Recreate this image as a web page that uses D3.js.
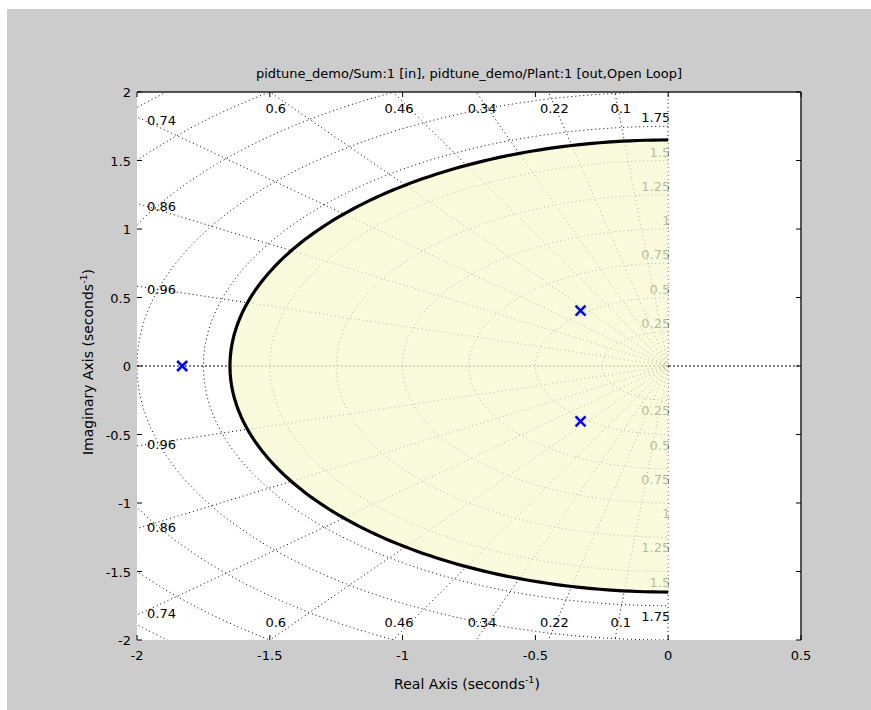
<!DOCTYPE html>
<html><head><meta charset="utf-8">
<script src="https://cdn.jsdelivr.net/npm/d3@7"></script>
<style>
html,body{margin:0;padding:0;background:#fff;}
svg text{font-family:"DejaVu Sans","Liberation Sans",Arial,sans-serif;}
</style></head>
<body>
<svg id="c" width="871" height="710"></svg>
<script>
const titleText = "pidtune_demo/Sum:1 [in], pidtune_demo/Plant:1 [out,Open Loop]";
const xTicks = [-2, -1.5, -1, -0.5, 0, 0.5];
const yTicks = [-2, -1.5, -1, -0.5, 0, 0.5, 1, 1.5, 2];
const dampingValues = [0.1, 0.22, 0.34, 0.46, 0.6, 0.74, 0.86, 0.96];
const naturalFreqs = [0.25, 0.5, 0.75, 1, 1.25, 1.5, 1.75, 2, 2.25, 2.5, 2.75];
const naturalFreqLabels = [0.25, 0.5, 0.75, 1, 1.25, 1.5, 1.75];
const poleRe = [-1.83, -0.33, -0.33];
const poleIm = [0, 0.405, -0.405];
const boundRadius = [1.65];

const svg = d3.select("#c");
const W = 871, H = 710;
const m = {l:137, r:801, t:92, b:640};
const x = d3.scaleLinear().domain([-2, 0.5]).range([m.l, m.r]);
const y = d3.scaleLinear().domain([-2, 2]).range([m.b, m.t]);

// figure background
svg.append("rect").attr("x",7).attr("y",9).attr("width",W-7).attr("height",H-9).attr("fill","#cccccc");
// axes background
svg.append("rect").attr("x",m.l).attr("y",m.t).attr("width",m.r-m.l).attr("height",m.b-m.t).attr("fill","#ffffff");

const defs = svg.append("defs");
defs.append("clipPath").attr("id","axclip").append("rect")
  .attr("x",m.l).attr("y",m.t).attr("width",m.r-m.l).attr("height",m.b-m.t);
defs.append("clipPath").attr("id","lhpclip").append("rect")
  .attr("x",m.l).attr("y",m.t).attr("width",x(0)-m.l+0.5).attr("height",m.b-m.t);

const grid = svg.append("g").attr("clip-path","url(#lhpclip)");
const dot = "1,3";
const line = d3.line().x(d=>x(d[0])).y(d=>y(d[1]));

// natural frequency arcs (left half plane)
naturalFreqs.forEach(wn=>{
  const pts = d3.range(0, 181).map(i=>{
    const a = Math.PI/2 + i*Math.PI/180;
    return [wn*Math.cos(a), wn*Math.sin(a)];
  });
  grid.append("path").attr("d", line(pts)).attr("fill","none")
    .attr("stroke","#000").attr("stroke-width",1).attr("stroke-dasharray",dot);
});
// damping rays
const R = 4;
dampingValues.forEach(z=>{
  const s = Math.sqrt(1-z*z);
  [1,-1].forEach(sg=>{
    grid.append("path").attr("d", line([[0,0],[-z*R, sg*s*R]])).attr("fill","none")
      .attr("stroke","#000").attr("stroke-width",1).attr("stroke-dasharray",dot);
  });
});
// imaginary axis (zeta = 0)
grid.append("path").attr("d", line([[0,-2],[0,2]])).attr("fill","none")
  .attr("stroke","#000").attr("stroke-width",1).attr("stroke-dasharray",dot);

// real axis line (across whole axes)
svg.append("g").attr("clip-path","url(#axclip)").append("path")
  .attr("d", line([[-2,0],[0.5,0]])).attr("fill","none")
  .attr("stroke","#000").attr("stroke-width",1).attr("stroke-dasharray","2,2");

// natural frequency labels
const fs = 13;
naturalFreqLabels.forEach(wn=>{
  [1,-1].forEach(sg=>{
    grid.append("text").attr("x", x(0)+2)
      .attr("y", sg>0 ? y(wn)-4 : y(-wn)+15)
      .attr("text-anchor","end").attr("font-size",fs).attr("fill","#000").text(wn);
  });
});

// damping labels
dampingValues.forEach(z=>{
  const s = Math.sqrt(1-z*z);
  const yEdge = 2*s/z;
  if (yEdge <= 2) {
    [1,-1].forEach(sg=>{
      svg.append("text").attr("x", m.l+10)
        .attr("y", sg>0 ? y(yEdge)+8 : y(-yEdge)+3)
        .attr("font-size",fs).attr("fill","#000").text(z);
    });
  } else {
    const xEdge = -2*z/s;
    [1,-1].forEach(sg=>{
      svg.append("text").attr("x", x(xEdge)+6)
        .attr("y", sg>0 ? m.t+21 : m.b-13)
        .attr("text-anchor","middle").attr("font-size",fs).attr("fill","#000").text(z);
    });
  }
});

// shaded design region
const bpts = d3.range(0,181).map(i=>{
  const a = Math.PI/2 + i*Math.PI/180;
  return [boundRadius[0]*Math.cos(a), boundRadius[0]*Math.sin(a)];
});
svg.append("path").attr("d", line(bpts)+"Z").attr("fill","#f8f8d0").attr("fill-opacity",0.74).attr("stroke","none");
svg.append("path").attr("d", line(bpts)).attr("fill","none").attr("stroke","#000").attr("stroke-width",3.2);

// poles
const ms = 5;
poleRe.forEach((re,i)=>{
  const cx = x(re), cy = y(poleIm[i]);
  svg.append("path").attr("d",`M${cx-ms},${cy-ms}L${cx+ms},${cy+ms}M${cx-ms},${cy+ms}L${cx+ms},${cy-ms}`)
    .attr("stroke","#0000ff").attr("stroke-width",2.5).attr("fill","none");
});

// axes box (top & right visible) and ticks
svg.append("line").attr("x1",m.l).attr("x2",m.r).attr("y1",m.t).attr("y2",m.t).attr("stroke","#222").attr("stroke-width",1.5);
svg.append("line").attr("x1",m.r).attr("x2",m.r).attr("y1",m.t).attr("y2",m.b).attr("stroke","#222").attr("stroke-width",1.5);
const tl = 5;
xTicks.forEach(v=>{
  svg.append("line").attr("x1",x(v)).attr("x2",x(v)).attr("y1",m.b).attr("y2",m.b-tl).attr("stroke","#000");
  svg.append("line").attr("x1",x(v)).attr("x2",x(v)).attr("y1",m.t).attr("y2",m.t+tl).attr("stroke","#000");
  svg.append("text").attr("x",x(v)).attr("y",m.b+20).attr("text-anchor","middle").attr("font-size",fs).attr("fill","#000").text(v);
});
yTicks.forEach(v=>{
  svg.append("line").attr("x1",m.l).attr("x2",m.l+tl).attr("y1",y(v)).attr("y2",y(v)).attr("stroke","#000");
  svg.append("line").attr("x1",m.r).attr("x2",m.r-tl).attr("y1",y(v)).attr("y2",y(v)).attr("stroke","#000");
  svg.append("text").attr("x",m.l-6).attr("y",y(v)+5).attr("text-anchor","end").attr("font-size",fs).attr("fill","#000").text(v);
});

// title
svg.append("text").attr("x",(m.l+m.r)/2).attr("y",m.t-14).attr("text-anchor","middle").attr("font-size",13).attr("fill","#000").text(titleText);

// x label
const xl = svg.append("text").attr("x",(m.l+m.r)/2-2).attr("y",689).attr("text-anchor","middle").attr("font-size",14).attr("fill","#000");
xl.append("tspan").text("Real Axis (seconds");
xl.append("tspan").attr("dy",-6).attr("font-size",9.5).text("-1");
xl.append("tspan").attr("dy",6).text(")");

// y label
const yl = svg.append("text").attr("transform",`translate(93,${(m.t+m.b)/2 - 4}) rotate(-90)`).attr("text-anchor","middle").attr("font-size",14).attr("fill","#000");
yl.append("tspan").text("Imaginary Axis (seconds");
yl.append("tspan").attr("dy",-6).attr("font-size",9.5).text("-1");
yl.append("tspan").attr("dy",6).text(")");
</script>
</body></html>
